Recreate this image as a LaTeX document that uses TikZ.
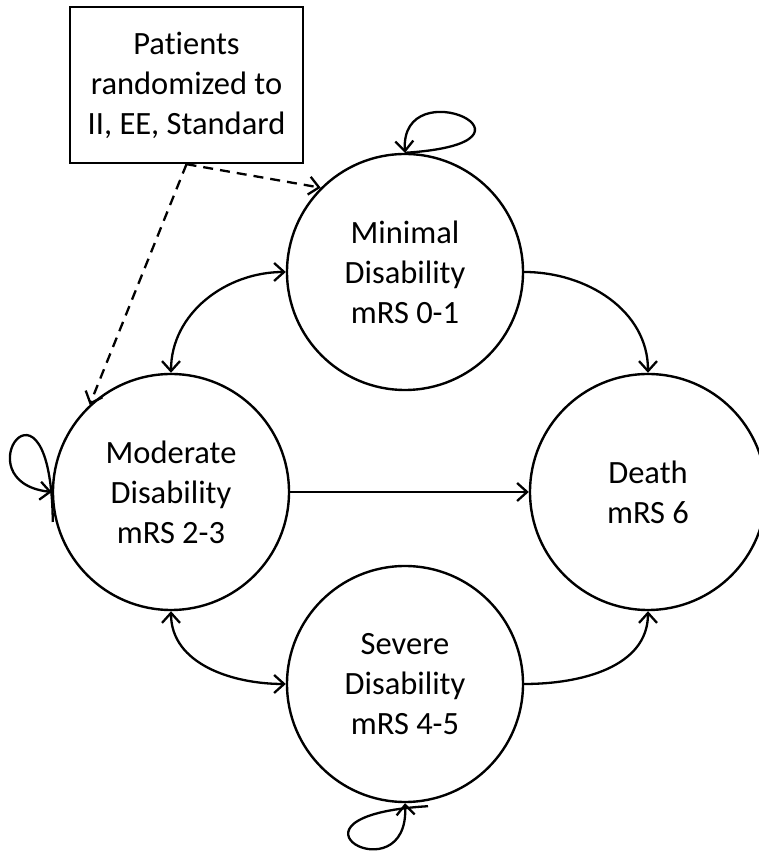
\documentclass[tikz,border=0pt]{standalone}
\usepackage{fontspec}
\setmainfont[Ligatures={NoCommon}]{Carlito}
\usetikzlibrary{arrows.meta,calc}
\begin{document}
\begin{tikzpicture}[x=1pt,y=1pt,
  >={Straight Barb[length=10pt,width=18pt]},
  txt/.style={align=center,font=\fontsize{32.5}{40}\selectfont},
  state/.style={circle,draw,line width=2.4pt,minimum size=236pt,inner sep=0pt,txt},
  conn/.style={line width=2.3pt},
  dashconn/.style={line width=2.3pt,dash pattern=on 10pt off 7pt}]
\useasboundingbox (0,0) rectangle (758,853);
\node[draw,line width=2.4pt,minimum width=233pt,minimum height=156pt,inner sep=0pt,txt] (box) at (186.5,768) {Patients\\randomized to\\II, EE, Standard};
\node[state] (min) at (405,581) {Minimal\\Disability\\mRS 0-1};
\node[state] (mod) at (171,361) {Moderate\\Disability\\mRS 2-3};
\node[state] (death) at (648,361) {Death\\mRS 6};
\node[state] (sev) at (405,169) {Severe\\Disability\\mRS 4-5};
% transitions
\draw[conn,->] (min.east) to[out=0,in=90] (death.north);
\draw[conn,->] (mod.east) -- (death.west);
\draw[conn,->] (sev.east) to[out=0,in=-90] (death.south);
\draw[conn,<->] (mod.north) to[out=90,in=180] (min.west);
\draw[conn,<->] (mod.south) to[out=-90,in=180] (sev.west);
% randomization
\draw[dashconn,->] (box.south) -- (min.135);
\draw[dashconn,->] (box.south) -- (mod.133);
% self loops
\draw[conn,->] (min.north) .. controls ($(min.north)+(160,10)$) and ($(min.north)+(-5,85)$) .. (min.north);
\draw[conn,->] ($(mod.west)+(1,-30)$) .. controls ($(mod.west)+(-1,140)$) and ($(mod.west)+(-92,10)$) .. (mod.west);
\draw[conn,->] ($(sev.south)+(23,-3)$) .. controls ($(sev.south)+(-145,-13)$) and ($(sev.south)+(5,-95)$) .. (sev.south);
\end{tikzpicture}
\end{document}
